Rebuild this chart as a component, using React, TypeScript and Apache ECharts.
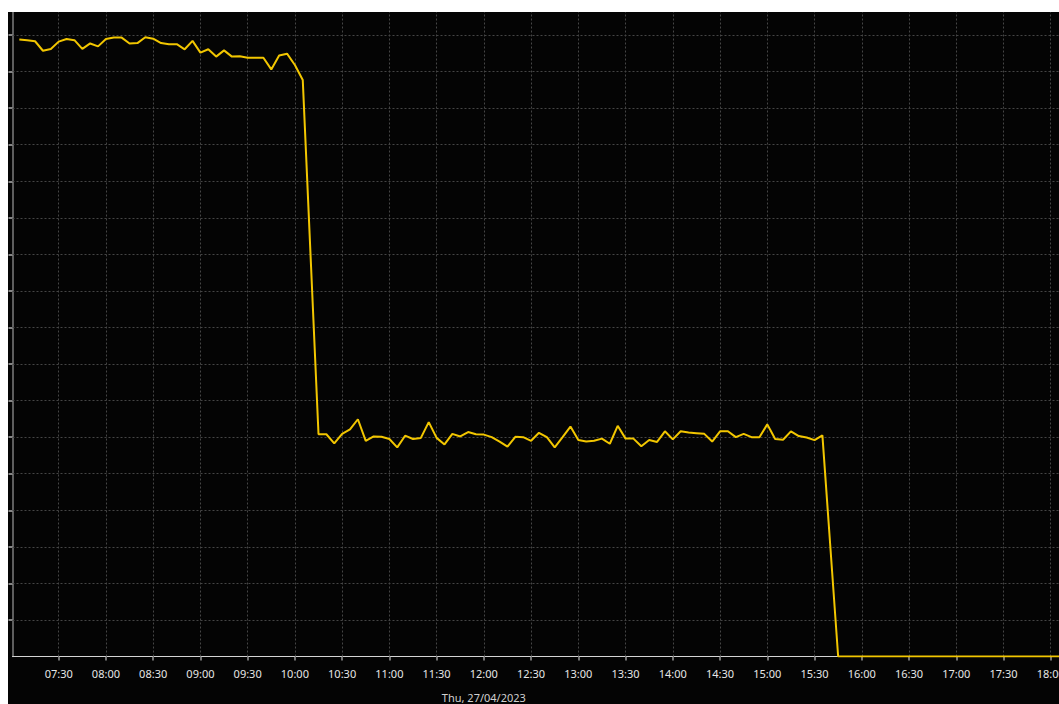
import React, { useEffect, useRef } from "react";
import * as echarts from "echarts";

// ---- data ----
const dayLabel = "Thu, 27/04/2023";
const dayNoon = "12:00";

const xTickLabels = [
  "07:30", "08:00", "08:30", "09:00", "09:30", "10:00", "10:30", "11:00",
  "11:30", "12:00", "12:30", "13:00", "13:30", "14:00", "14:30", "15:00",
  "15:30", "16:00", "16:30", "17:00", "17:30", "18:00",
];

const yGridValues = [
  100, 200, 300, 400, 500, 600, 700, 800, 900, 1000, 1100, 1200, 1300, 1400,
  1500, 1600, 1700,
];

const axisMinTime = "07:00:40";
const axisMaxTime = "18:05:15";
const stepMinutes = 5;

// 07:05 .. 10:05 every 5 minutes
const topStart = "07:05";
const topValues = [
  1688, 1686, 1683, 1657, 1662, 1682, 1689, 1686, 1662, 1677, 1669, 1689,
  1693, 1693, 1677, 1678, 1694, 1690, 1678, 1675, 1675, 1661, 1684, 1652,
  1661, 1641, 1658, 1641, 1642, 1638, 1638, 1638, 1606, 1644, 1649, 1618,
  1577,
];

// 10:15 .. 15:35 every 5 minutes
const midStart = "10:15";
const midValues = [
  608, 608, 583, 609, 621, 649, 590, 602, 601, 595, 572, 604, 595, 598, 641,
  598, 580, 609, 602, 614, 608, 607, 600, 588, 574, 601, 600, 590, 612, 600,
  572, 600, 629, 592, 588, 590, 596, 582, 631, 596, 596, 575, 592, 587, 616,
  594, 616, 613, 611, 609, 588, 616, 616, 600, 609, 600, 600, 635, 595, 593,
  616, 603, 599, 592, 605,
];

// 15:45 .. 18:10 every 5 minutes
const lowStart = "15:45";
const lowValues = [
  0, 0, 0, 0, 0, 0, 0, 0, 0, 0, 0, 0, 0, 0, 0, 0, 0, 0, 0, 0, 0, 0, 0, 0, 0,
  0, 0, 0, 0, 0,
];

const yMin = 0;
const yMax = 1763;

function toTime(s: string): number {
  const parts = s.split(":").map(Number);
  return new Date(2023, 3, 27, parts[0], parts[1], parts[2] || 0).getTime();
}

function segment(start: string, values: number[]): [number, number][] {
  const t0 = toTime(start);
  return values.map((v, i) => [t0 + i * stepMinutes * 60000, v] as [number, number]);
}

function hhmm(v: number): string {
  const d = new Date(v);
  const h = String(d.getHours()).padStart(2, "0");
  const m = String(d.getMinutes()).padStart(2, "0");
  return h + ":" + m;
}

export default function App() {
  const ref = useRef<HTMLDivElement>(null);

  useEffect(() => {
    if (!ref.current) return;
    const chart = echarts.init(ref.current, null, { renderer: "svg" });

    const data = [
      ...segment(topStart, topValues),
      ...segment(midStart, midValues),
      ...segment(lowStart, lowValues),
    ];

    const xTicks = xTickLabels.map(toTime);
    const gridCommon = {
      left: 4.5,
      right: 0,
      top: 0,
      bottom: 47.5,
      containLabel: false,
      outerBoundsMode: "none",
    };
    const font = "'Noto Sans', 'Liberation Sans', sans-serif";

    chart.setOption({
      animation: false,
      backgroundColor: "#040404",
      grid: [gridCommon, gridCommon],
      xAxis: [
        {
          type: "value",
          gridIndex: 0,
          min: toTime(axisMinTime),
          max: toTime(axisMaxTime),
          position: "bottom",
          axisLine: { show: true, lineStyle: { color: "#d4d4d4", width: 1 } },
          axisTick: {
            show: true,
            length: 4,
            customValues: xTicks,
            lineStyle: { color: "#9a9a9a", width: 1.5 },
          },
          axisLabel: {
            show: true,
            customValues: xTicks,
            formatter: (v: number) => hhmm(v),
            color: "#e6e6e6",
            fontSize: 11,
            fontFamily: font,
            margin: 11,
            hideOverlap: false,
          },
          splitLine: { show: false },
        },
        {
          type: "value",
          gridIndex: 1,
          min: toTime(axisMinTime),
          max: toTime(axisMaxTime),
          position: "bottom",
          offset: 24,
          axisLine: { show: false },
          axisTick: { show: false },
          axisLabel: {
            show: true,
            customValues: [toTime(dayNoon)],
            formatter: () => dayLabel,
            color: "#d0d0d0",
            fontSize: 11,
            fontFamily: font,
            margin: 11,
          },
          splitLine: { show: false },
        },
      ],
      yAxis: [
        {
          type: "value",
          gridIndex: 0,
          min: yMin,
          max: yMax,
          axisLine: { show: true, lineStyle: { color: "#7c7c7c", width: 1.5 } },
          axisTick: {
            show: true,
            length: 4,
            customValues: yGridValues,
            lineStyle: { color: "#b0b0b0", width: 1.5 },
          },
          axisLabel: { show: false },
          splitLine: { show: false },
        },
        {
          type: "value",
          gridIndex: 1,
          min: yMin,
          max: yMax,
          show: false,
        },
      ],
      series: [
        {
          type: "line",
          xAxisIndex: 0,
          yAxisIndex: 0,
          data,
          symbol: "none",
          showSymbol: false,
          z: 3,
          lineStyle: { color: "#f2c600", width: 2 },
          markLine: {
            silent: true,
            z: 1,
            symbol: ["none", "none"],
            label: { show: false },
            lineStyle: { color: "#454545", type: [2, 2], width: 1 },
            emphasis: { disabled: true },
            data: [
              ...xTicks.map((t) => ({ xAxis: t })),
              ...yGridValues.map((v) => ({ yAxis: v })),
            ],
          },
        },
      ],
    });

    return () => chart.dispose();
  }, []);

  return (
    <div
      ref={ref}
      style={{ position: "fixed", left: 8, top: 12, width: 1051, height: 692 }}
    />
  );
}
